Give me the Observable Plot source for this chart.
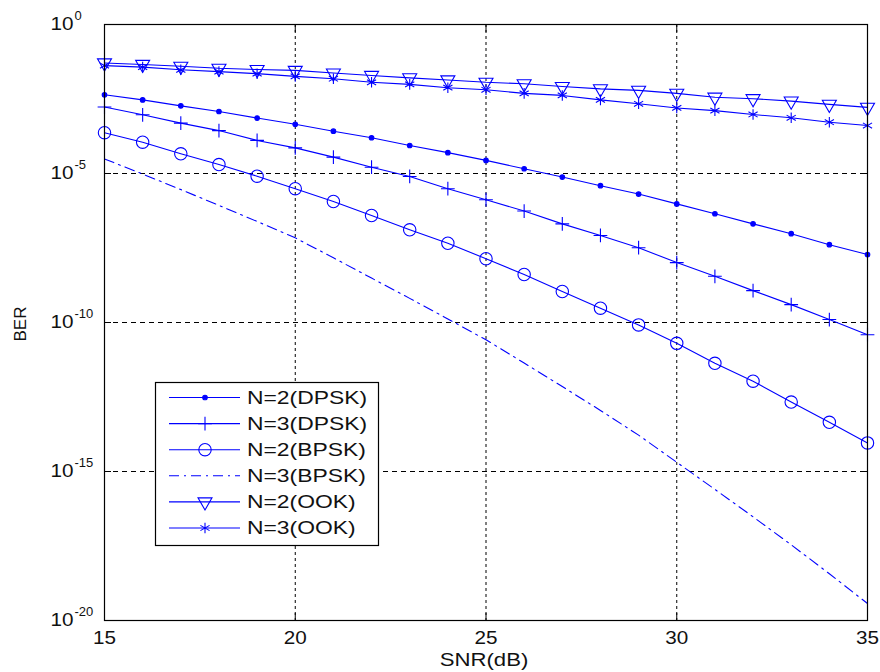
<!DOCTYPE html>
<html><head><meta charset="utf-8">
<script src="https://cdn.jsdelivr.net/npm/d3@7"></script>
<script src="https://cdn.jsdelivr.net/npm/@observablehq/plot@0.6"></script>
<style>
body{margin:0;background:#fff;}
#chart svg{display:block;font-family:"Liberation Sans",Arial,sans-serif;overflow:visible;}
</style></head><body><div id="chart"></div>
<script>
// ---- data (BER stored as log10 exponents) ----
const snr = [15,16,17,18,19,20,21,22,23,24,25,26,27,28,29,30,31,32,33,34,35];
const xTicks = [15,20,25,30,35];
const yTickExp = [0,-5,-10,-15,-20];
const seriesNames = ["N=2(DPSK)","N=3(DPSK)","N=2(BPSK)","N=3(BPSK)","N=2(OOK)","N=3(OOK)"];

const dpskN2 = [-2.36,-2.53,-2.73,-2.92,-3.14,-3.35,-3.58,-3.80,-4.06,-4.30,-4.56,-4.84,-5.12,-5.41,-5.69,-6.02,-6.35,-6.69,-7.02,-7.39,-7.72];
const dpskN3 = [-2.77,-3.03,-3.31,-3.56,-3.89,-4.14,-4.45,-4.79,-5.10,-5.51,-5.88,-6.26,-6.69,-7.08,-7.49,-7.99,-8.45,-8.93,-9.40,-9.90,-10.41];
const bpskN2 = [-3.63,-3.95,-4.34,-4.70,-5.09,-5.51,-5.94,-6.41,-6.89,-7.34,-7.86,-8.39,-8.96,-9.52,-10.08,-10.70,-11.37,-11.97,-12.67,-13.35,-14.04];
const bpskN3 = [-4.51,-5.02,-5.54,-6.07,-6.61,-7.16,-7.83,-8.51,-9.19,-9.88,-10.58,-11.36,-12.15,-12.95,-13.78,-14.69,-15.60,-16.52,-17.46,-18.43,-19.43];
const ookN2  = [-1.29,-1.34,-1.40,-1.47,-1.51,-1.54,-1.63,-1.71,-1.79,-1.86,-1.94,-1.99,-2.08,-2.16,-2.21,-2.31,-2.44,-2.49,-2.57,-2.68,-2.78];
const ookN3  = [-1.38,-1.43,-1.52,-1.58,-1.65,-1.74,-1.82,-1.94,-2.01,-2.12,-2.19,-2.31,-2.38,-2.53,-2.66,-2.80,-2.89,-3.02,-3.13,-3.28,-3.39];

const seriesLogs = [dpskN2, dpskN3, bpskN2, bpskN3, ookN2, ookN3];

// ---- styles ----
const BLUE = "#0000ff";
const styles = [
  {symbol:"circle",   r:2.3, fill:BLUE, stroke:BLUE, dash:null, rotate:0},
  {symbol:"plus",     r:4.5, fill:"none", stroke:BLUE, dash:null, rotate:0},
  {symbol:"circle",   r:6.2, fill:"none", stroke:BLUE, dash:null, rotate:0},
  {symbol:null,       r:0,   fill:"none", stroke:BLUE, dash:"10,5,2,5", rotate:0},
  {symbol:"triangle", r:5.2, fill:"none", stroke:BLUE, dash:null, rotate:180},
  {symbol:"asterisk", r:5.0, fill:"none", stroke:BLUE, dash:null, rotate:0}
];

const rows = seriesNames.map((name, k) => snr.map((x, i) => ({snr:x, ber:Math.pow(10, seriesLogs[k][i]), series:name})));
const yTicks = yTickExp.map(e => Math.pow(10, e));

const marks = [
  Plot.gridX([20,25,30], {stroke:"black", strokeOpacity:1, strokeWidth:1, strokeDasharray:"3,3"}),
  Plot.gridY([1e-5,1e-10,1e-15], {stroke:"black", strokeOpacity:1, strokeWidth:1, strokeDasharray:"5,4"})
];
rows.forEach((data, k) => {
  const s = styles[k];
  marks.push(Plot.line(data, {x:"snr", y:"ber", stroke:s.stroke, strokeWidth:1.1, strokeDasharray:s.dash || undefined}));
});
rows.forEach((data, k) => {
  const s = styles[k];
  if (!s.symbol) return;
  marks.push(Plot.dot(data, {x:"snr", y:"ber", symbol:s.symbol, r:s.r, fill:s.fill, stroke:s.stroke, strokeWidth:1.1, rotate:s.rotate}));
});
marks.push(
  Plot.frame({stroke:"black", strokeWidth:1.2}),
  // inner ticks
  Plot.axisX({ticks:xTicks, anchor:"bottom", tickSize:-7, tickFormat:()=>"", stroke:"black", label:null}),
  Plot.axisX({ticks:xTicks, anchor:"top", tickSize:-7, tickFormat:()=>"", stroke:"black", label:null}),
  Plot.axisY({ticks:yTicks, anchor:"left", tickSize:-7, tickFormat:()=>"", stroke:"black", label:null}),
  Plot.axisY({ticks:yTicks, anchor:"right", tickSize:-7, tickFormat:()=>"", stroke:"black", label:null}),
  // tick labels
  Plot.axisX({ticks:xTicks, anchor:"bottom", tickSize:0, tickPadding:11, fontSize:18, tickFormat:d=>String(d), fill:"#111", className:"xlab", label:null}),
  Plot.axisY({ticks:yTicks, anchor:"left", tickSize:0, tickPadding:31, fontSize:18, tickFormat:()=>"10", fill:"#111", className:"ylab", label:null}),
  Plot.text(yTickExp, {y:d=>Math.pow(10,d), frameAnchor:"left", text:d=>String(d), dx:-30, dy:-9, textAnchor:"start", fontSize:13, fill:"#111"})
);

const chart = Plot.plot({
  width:880, height:672,
  marginTop:24, marginRight:13, marginBottom:52, marginLeft:104,
  x:{domain:[15,35], label:null},
  y:{type:"log", domain:[1e-20,1], label:null},
  style:{fontFamily:"Liberation Sans, Arial, sans-serif", background:"#fff"},
  marks
});
document.getElementById("chart").appendChild(chart);

const svg = d3.select(chart);
// axis titles
svg.append("text").attr("class","hstretch").attr("x",484).attr("y",666).attr("text-anchor","middle")
  .attr("font-size",18).attr("fill","#111").text("SNR(dB)");
svg.append("text").attr("transform","translate(26,324) rotate(-90)").attr("text-anchor","middle")
  .attr("font-size",17).attr("fill","#111").text("BER");

// legend
const lg = svg.append("g").attr("text-anchor","start");
lg.append("rect").attr("x",155.5).attr("y",382.5).attr("width",223).attr("height",163)
  .attr("fill","white").attr("stroke","black").attr("stroke-width",1.2);
const symMap = {circle:d3.symbolCircle, plus:d3.symbolPlus, triangle:d3.symbolTriangle, asterisk:d3.symbolAsterisk};
seriesNames.forEach((name, k) => {
  const s = styles[k];
  const y = 397.5 + k*26.1;
  lg.append("line").attr("x1",169).attr("x2",240).attr("y1",y).attr("y2",y)
    .attr("stroke",BLUE).attr("stroke-width",1.1).attr("stroke-dasharray", s.dash ? "10,5,2,5" : null);
  if (s.symbol) {
    lg.append("path").attr("d", d3.symbol(symMap[s.symbol], Math.PI*s.r*s.r)())
      .attr("transform",`translate(205,${y}) rotate(${s.rotate})`)
      .attr("fill",s.fill).attr("stroke",s.stroke).attr("stroke-width",1.1);
  }
  lg.append("text").attr("class","lgtext").attr("x",247).attr("y",y).attr("dy","0.36em")
    .attr("text-anchor","start").attr("font-size",18).attr("fill","#111").text(name);
});

// horizontal stretch of horizontal texts (reference is rendered wider)
function stretch(sel, f){
  svg.selectAll(sel).each(function(){
    const len = this.getComputedTextLength();
    if (len > 0) { this.setAttribute("textLength", (len*f).toFixed(1)); this.setAttribute("lengthAdjust","spacingAndGlyphs"); }
  });
}
stretch(".hstretch", 1.23);
stretch(".lgtext", 1.27);
stretch(".xlab text, .ylab text", 1.15);
</script></body></html>
